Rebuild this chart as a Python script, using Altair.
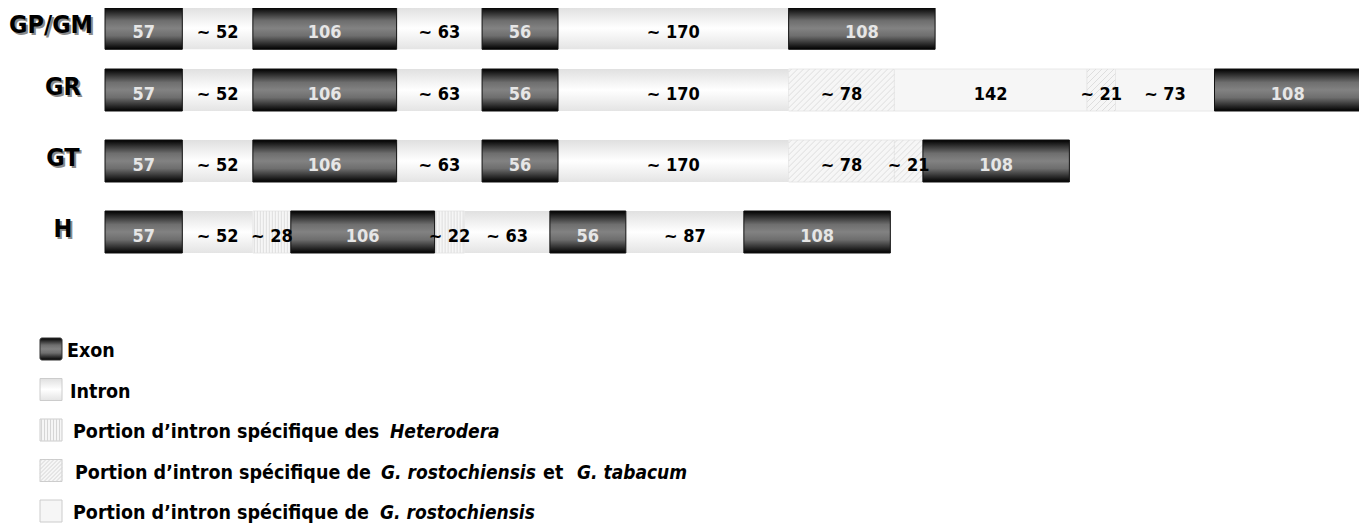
import altair as alt
import numpy as np
import pandas as pd

# ---------------- data ----------------
ROW_NAMES = ["GP/GM", "GR", "GT", "H"]

GPGM_LEN = [57, 52, 106, 63, 56, 170, 108]
GPGM_KIND = ["exon", "intron", "exon", "intron", "exon", "intron", "exon"]
GPGM_LABEL = ["57", "~ 52", "106", "~ 63", "56", "~ 170", "108"]

GR_LEN = [57, 52, 106, 63, 56, 170, 78, 142, 21, 73, 108]
GR_KIND = ["exon", "intron", "exon", "intron", "exon", "intron", "grgt", "gr", "grgt", "gr", "exon"]
GR_LABEL = ["57", "~ 52", "106", "~ 63", "56", "~ 170", "~ 78", "142", "~ 21", "~ 73", "108"]

GT_LEN = [57, 52, 106, 63, 56, 170, 78, 21, 108]
GT_KIND = ["exon", "intron", "exon", "intron", "exon", "intron", "grgt", "grgt", "exon"]
GT_LABEL = ["57", "~ 52", "106", "~ 63", "56", "~ 170", "~ 78", "~ 21", "108"]

H_LEN = [57, 52, 28, 106, 22, 63, 56, 87, 108]
H_KIND = ["exon", "intron", "het", "exon", "het", "intron", "exon", "intron", "exon"]
H_LABEL = ["57", "~ 52", "~ 28", "106", "~ 22", "~ 63", "56", "~ 87", "108"]

LEGEND_KIND = ["exon", "intron", "het", "grgt", "gr"]
LEGEND_PIECE_ROW = [0, 1, 2, 2, 3, 3, 3, 3, 4, 4]
LEGEND_PIECE_TEXT = ["Exon", "Intron",
                     "Portion d\u2019intron sp\u00e9cifique des", "Heterodera",
                     "Portion d\u2019intron sp\u00e9cifique de", "G. rostochiensis", "et", "G. tabacum",
                     "Portion d\u2019intron sp\u00e9cifique de", "G. rostochiensis"]
LEGEND_PIECE_ITALIC = [False, False, False, True, False, True, False, True, False, True]

# ---------------- layout (pixels, plot coordinates) ----------------
W, H = 1351, 517
X_START, X_END = 97, 1353
Y_ROW_RANGE = [20.3, 82.0, 153.0, 224.0]   # y-scale range (one stop per row)
BAR_H = 42
LEG_Y_FIRST, LEG_Y_LAST = 341, 503
LEG_SQ_X0, LEG_SQ = 32, 22
LEGEND_PIECE_X = [59, 62, 65, 382, 67, 373, 535, 569, 65, 372]
FONT = "DejaVu Sans Condensed, DejaVu Sans"

rows = [(GPGM_LEN, GPGM_KIND, GPGM_LABEL), (GR_LEN, GR_KIND, GR_LABEL),
        (GT_LEN, GT_KIND, GT_LABEL), (H_LEN, H_KIND, H_LABEL)]
TOTAL = max(sum(r[0]) for r in rows)
PXBP = (X_END - X_START) / TOTAL
Y_DOMAIN = list(range(len(ROW_NAMES)))
LEG_STEP = (LEG_Y_LAST - LEG_Y_FIRST) / (len(LEGEND_KIND) - 1)
LHALF = LEG_SQ / 2 / LEG_STEP


def y_unit(px):
    """inverse of the piecewise-linear row scale (with linear extrapolation)"""
    r = Y_ROW_RANGE
    i = int(np.clip(np.searchsorted(r, px) - 1, 0, len(r) - 2))
    return Y_DOMAIN[i] + (px - r[i]) * (Y_DOMAIN[i + 1] - Y_DOMAIN[i]) / (r[i + 1] - r[i])


def diag_segments(w, h, step):
    out = []
    c = step / 2
    while c < w + h:
        xa, xb = max(0.0, c - h), min(w, c)
        if xb > xa:
            out.append((xa, c - xa, xb, c - xb))
        c += step
    return out


def vert_segments(w, h, step):
    return [(u, 0.0, u, h) for u in np.arange(step / 2, w, step)]


seg_recs, hatch_recs = [], []
for ri, (lens, kinds, labels) in enumerate(rows):
    top_px = Y_ROW_RANGE[ri] - BAR_H / 2
    starts = np.concatenate([[0], np.cumsum(lens)[:-1]])
    for s, l, k, lab in zip(starts, lens, kinds, labels):
        seg_recs.append(dict(ri=ri, start=float(s), end=float(s + l), mid=float(s + l / 2),
                             kind=k, label=lab, y0=y_unit(top_px), y1=y_unit(top_px + BAR_H)))
        w = l * PXBP
        segs = []
        if k == "grgt":
            segs = diag_segments(w, BAR_H, 6)
        elif k == "het":
            segs = vert_segments(w, BAR_H, 3)
        for xa, ya, xb, yb in segs:
            hatch_recs.append(dict(x0=s + xa / PXBP, x1=s + xb / PXBP,
                                   y0=y_unit(top_px + ya), y1=y_unit(top_px + yb)))
seg_df = pd.DataFrame(seg_recs)
hatch_df = pd.DataFrame(hatch_recs)
row_df = pd.DataFrame(dict(ri=Y_DOMAIN, name=ROW_NAMES))

leg_recs, leg_hatch = [], []
for li, k in enumerate(LEGEND_KIND):
    leg_recs.append(dict(li=li, kind=k, x0=LEG_SQ_X0, x1=LEG_SQ_X0 + LEG_SQ, y0=li - LHALF, y1=li + LHALF))
    segs = []
    if k == "grgt":
        segs = diag_segments(LEG_SQ, LEG_SQ, 4)
    elif k == "het":
        segs = vert_segments(LEG_SQ, LEG_SQ, 3)
    for xa, ya, xb, yb in segs:
        leg_hatch.append(dict(x0=LEG_SQ_X0 + xa, x1=LEG_SQ_X0 + xb,
                              y0=li - LHALF + ya / LEG_STEP, y1=li - LHALF + yb / LEG_STEP))
leg_df = pd.DataFrame(leg_recs)
leg_hatch_df = pd.DataFrame(leg_hatch)
piece_df = pd.DataFrame(dict(li=LEGEND_PIECE_ROW, text=LEGEND_PIECE_TEXT,
                             italic=LEGEND_PIECE_ITALIC, px=LEGEND_PIECE_X))

# ---------------- styles ----------------
EXON_GRAD = alt.Gradient(gradient="linear", x1=0, x2=0, y1=0, y2=1, stops=[
    alt.GradientStop(color="#000000", offset=0),
    alt.GradientStop(color="#6e6e6e", offset=0.32),
    alt.GradientStop(color="#828282", offset=0.5),
    alt.GradientStop(color="#6e6e6e", offset=0.68),
    alt.GradientStop(color="#000000", offset=1)])
INTRON_GRAD = alt.Gradient(gradient="linear", x1=0, x2=0, y1=0, y2=1, stops=[
    alt.GradientStop(color="#e0e0e0", offset=0),
    alt.GradientStop(color="#ffffff", offset=0.5),
    alt.GradientStop(color="#e4e4e4", offset=1)])
LIGHT_FILL = "#f6f6f6"

XS = alt.Scale(domain=[0, TOTAL], range=[X_START, X_END], nice=False, zero=False)
YS = alt.Scale(domain=Y_DOMAIN, range=Y_ROW_RANGE, nice=False, zero=False)
LYS = alt.Scale(domain=[0, len(LEGEND_KIND) - 1], range=[LEG_Y_FIRST, LEG_Y_LAST], nice=False, zero=False)

seg_base = alt.Chart(seg_df).encode(
    x=alt.X("start:Q", scale=XS, axis=None), x2="end:Q",
    y=alt.Y("y0:Q", scale=YS, axis=None), y2="y1:Q")

intron_rects = seg_base.mark_rect(fill=INTRON_GRAD).transform_filter("datum.kind == 'intron'")
light_rects = seg_base.mark_rect(fill=LIGHT_FILL, stroke="#e8e8e8", strokeWidth=1).transform_filter(
    "datum.kind != 'intron' && datum.kind != 'exon'")
hatch = alt.Chart(hatch_df).mark_rule(color="#dedede", strokeWidth=1).encode(
    x=alt.X("x0:Q", scale=XS, axis=None), x2="x1:Q",
    y=alt.Y("y0:Q", scale=YS, axis=None), y2="y1:Q")
exon_rects = seg_base.mark_rect(fill=EXON_GRAD, stroke="#111111", strokeWidth=1).transform_filter(
    "datum.kind == 'exon'")

text_base = alt.Chart(seg_df).encode(
    x=alt.X("mid:Q", scale=XS, axis=None), y=alt.Y("ri:Q", scale=YS, axis=None), text="label:N")
exon_text = text_base.mark_text(font=FONT, fontWeight="bold", fontSize=18, color="#e6e6e6",
                                baseline="alphabetic", dy=9.5).transform_filter("datum.kind == 'exon'")
other_text = text_base.mark_text(font=FONT, fontWeight="bold", fontSize=18, color="#000000",
                                 baseline="alphabetic", dy=9.5).transform_filter("datum.kind != 'exon'")

lab_base = alt.Chart(row_df).encode(y=alt.Y("ri:Q", scale=YS, axis=None), text="name:N")
lab_props = dict(font=FONT, fontWeight="bold", fontSize=25, baseline="alphabetic")
lab_sh = lab_base.mark_text(align="center", dx=2, dy=7, color="#8a8a8a", **lab_props).encode(
    x=alt.value(55)).transform_filter("datum.name != 'GP/GM'")
lab = lab_base.mark_text(align="center", dy=5, color="#000000", **lab_props).encode(
    x=alt.value(55)).transform_filter("datum.name != 'GP/GM'")
lab1_sh = lab_base.mark_text(align="right", dx=2, dy=7, color="#8a8a8a", **lab_props).encode(
    x=alt.value(85)).transform_filter("datum.name == 'GP/GM'")
lab1 = lab_base.mark_text(align="right", dy=5, color="#000000", **lab_props).encode(
    x=alt.value(85)).transform_filter("datum.name == 'GP/GM'")

genes = alt.layer(intron_rects, light_rects, hatch, exon_rects, exon_text, other_text,
                  lab_sh, lab, lab1_sh, lab1)

# legend
lbase = alt.Chart(leg_df).encode(
    x=alt.X("x0:Q", scale=None, axis=None), x2="x1:Q",
    y=alt.Y("y0:Q", scale=LYS, axis=None), y2="y1:Q")
l_exon = lbase.mark_rect(fill=EXON_GRAD, stroke="#333333", strokeWidth=1, cornerRadius=2).transform_filter(
    "datum.kind == 'exon'")
l_intron = lbase.mark_rect(fill=INTRON_GRAD, stroke="#cccccc", strokeWidth=1).transform_filter(
    "datum.kind == 'intron'")
l_light = lbase.mark_rect(fill=LIGHT_FILL, stroke="#cccccc", strokeWidth=1).transform_filter(
    "datum.kind != 'intron' && datum.kind != 'exon'")
l_hatch = alt.Chart(leg_hatch_df).mark_rule(color="#d6d6d6", strokeWidth=1).encode(
    x=alt.X("x0:Q", scale=None, axis=None), x2="x1:Q",
    y=alt.Y("y0:Q", scale=LYS, axis=None), y2="y1:Q")
pbase = alt.Chart(piece_df).encode(
    x=alt.X("px:Q", scale=None, axis=None), y=alt.Y("li:Q", scale=LYS, axis=None), text="text:N")
p_norm = pbase.mark_text(font=FONT, fontWeight="bold", fontSize=19.5, align="left", baseline="alphabetic",
                         dy=8, color="#000000").transform_filter("!datum.italic")
p_ital = pbase.mark_text(font=FONT, fontWeight="bold", fontStyle="italic", fontSize=19, align="left",
                         baseline="alphabetic", dy=8, color="#000000").transform_filter("datum.italic")
legend = alt.layer(l_exon, l_intron, l_light, l_hatch, p_norm, p_ital)

chart = alt.layer(genes, legend).resolve_scale(x="independent", y="independent").properties(
    width=W, height=H, autosize=alt.AutoSizeParams(type="none"), padding=0
).configure_view(stroke=None)

chart.save("out.html", embed_options={"renderer": "svg", "actions": False})
